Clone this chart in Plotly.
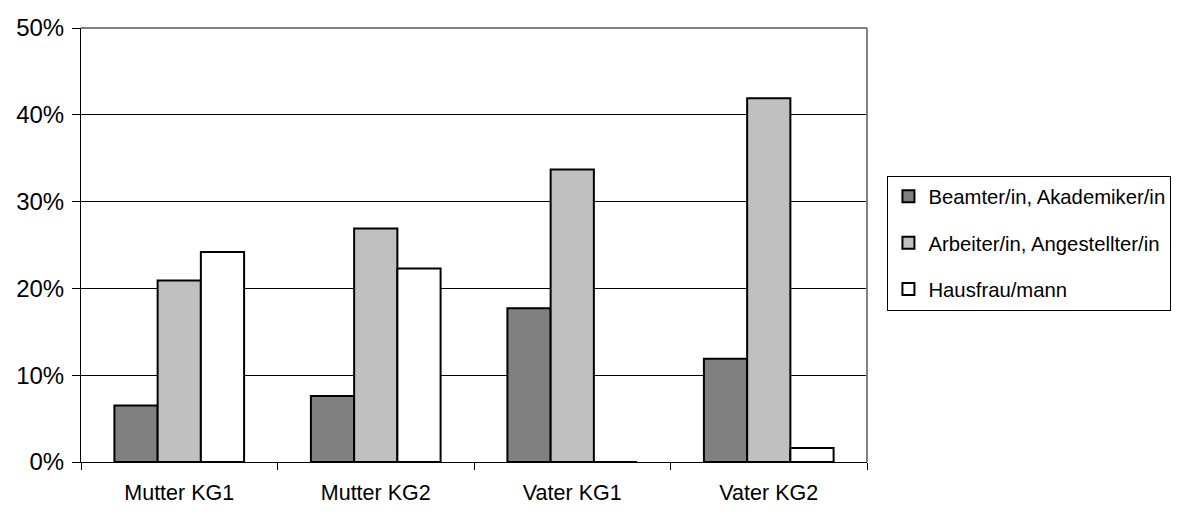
import plotly.graph_objects as go

categories = ["Mutter KG1", "Mutter KG2", "Vater KG1", "Vater KG2"]
series_names = ["Beamter/in, Akademiker/in", "Arbeiter/in, Angestellter/in", "Hausfrau/mann"]
beamter = [0.065, 0.076, 0.177, 0.119]
arbeiter = [0.209, 0.269, 0.337, 0.419]
hausfrau = [0.242, 0.223, 0.0, 0.016]
y_ticks = [0, 0.1, 0.2, 0.3, 0.4, 0.5]
y_tick_labels = ["0%", "10%", "20%", "30%", "40%", "50%"]

colors = ["#808080", "#C0C0C0", "#FFFFFF"]
FONT = "Liberation Sans, Arial, sans-serif"

fig = go.Figure()
for i, (name, vals) in enumerate(zip(series_names, [beamter, arbeiter, hausfrau])):
    fig.add_trace(go.Bar(
        x=categories, y=vals, name=name, legendgroup=f"g{i}",
        marker=dict(color=colors[i], line=dict(color="black", width=2)),
    ))

fig.update_layout(
    width=1171, height=506,
    margin=dict(l=73, r=312, t=20, b=52, autoexpand=False),
    paper_bgcolor="white", plot_bgcolor="white",
    barmode="group", bargap=0.34, bargroupgap=0,
    font=dict(family=FONT, size=21, color="black"),
    legend=dict(
        x=1.026, y=0.66, xanchor="left", yanchor="top",
        bordercolor="black", borderwidth=1, bgcolor="white",
        font=dict(family=FONT, size=20.3, color="black"),
        traceorder="grouped", tracegroupgap=17,
        itemwidth=30,
    ),
    showlegend=True,
)
fig.update_xaxes(
    type="category", showgrid=False,
    showline=True, linecolor="black", linewidth=1,
    ticks="outside", tickson="boundaries", ticklen=7, tickcolor="black",
    tickfont=dict(family=FONT, size=21.5),
    ticklabelstandoff=11,
)
fig.update_yaxes(
    range=[0, 0.5], tickvals=y_ticks, ticktext=y_tick_labels,
    showgrid=True, gridcolor="black", gridwidth=1,
    showline=True, linecolor="black", linewidth=1,
    ticks="outside", ticklen=8, tickcolor="black",
    tickfont=dict(family=FONT, size=24),
    ticklabelstandoff=3,
    zeroline=False,
)
fig.add_shape(type="line", xref="paper", yref="paper", x0=0, x1=1, y0=1, y1=1,
              line=dict(color="#808080", width=2), layer="above")
fig.add_shape(type="line", xref="paper", yref="paper", x0=1, x1=1, y0=0, y1=1,
              line=dict(color="#808080", width=2), layer="above")

fig.write_html("out.html")
